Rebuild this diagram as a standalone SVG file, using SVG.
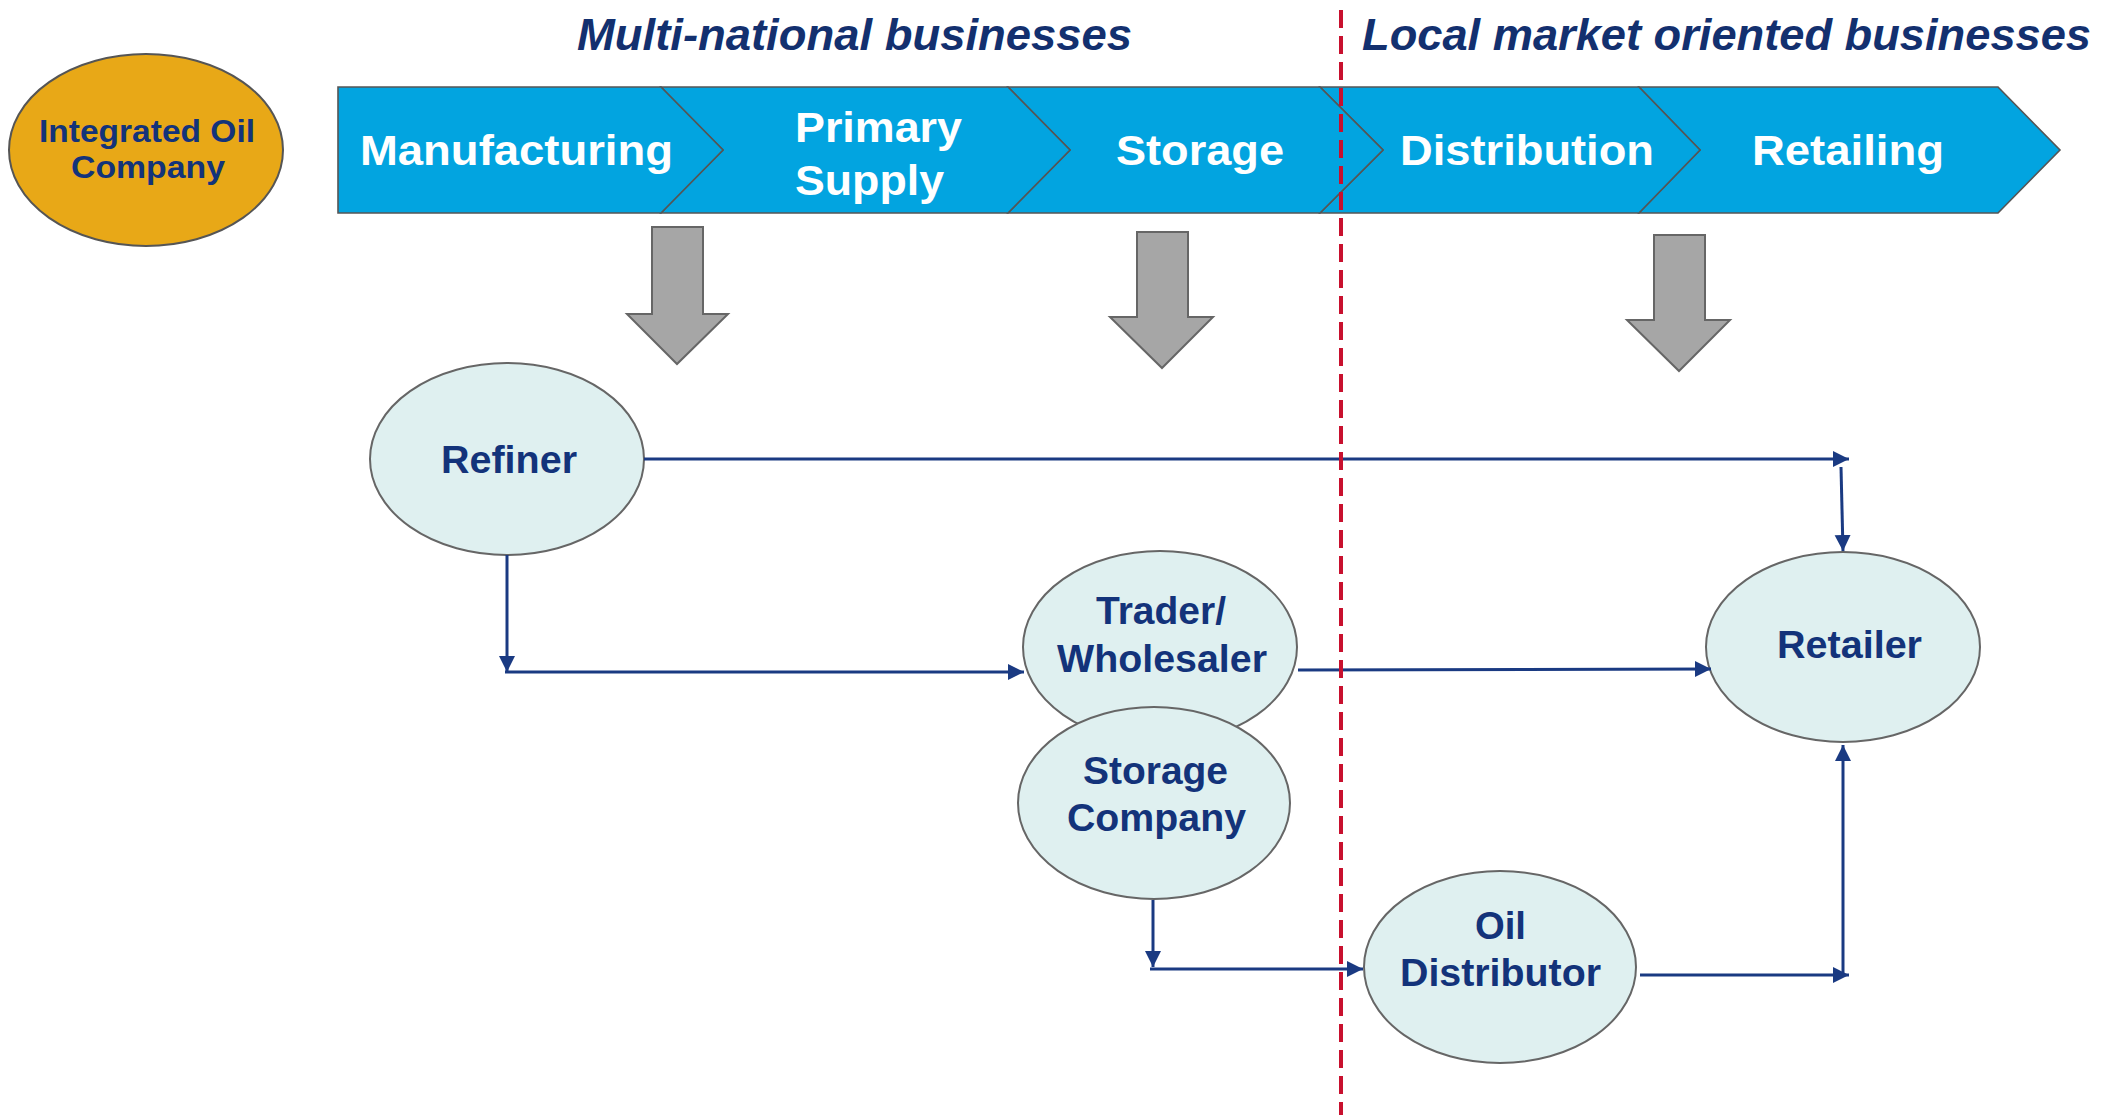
<svg xmlns="http://www.w3.org/2000/svg" width="2105" height="1115" viewBox="0 0 2105 1115">
<defs>
<marker id="ah" markerUnits="userSpaceOnUse" markerWidth="17" markerHeight="17" refX="16" refY="8" orient="auto">
<path d="M0,0 L16,8 L0,16 z" fill="#1A3A82"/>
</marker>
<style>
.title{font-family:"Liberation Sans",Arial,sans-serif;font-weight:bold;font-style:italic;font-size:44px;fill:#13306F}
.chev{fill:#02A4E0;stroke:#555;stroke-width:1.6}
.ctext{font-family:"Liberation Sans",Arial,sans-serif;font-weight:bold;font-size:42px;fill:#fff}
.node{fill:#DFF0F0;stroke:#666;stroke-width:2}
.ntext{font-family:"Liberation Sans",Arial,sans-serif;font-weight:bold;font-size:39px;fill:#13337A}
.garrow{fill:#A6A6A6;stroke:#666;stroke-width:2}
.conn{fill:none;stroke:#1A3A82;stroke-width:3}
.arr{marker-end:url(#ah)}
</style>
</defs>
<rect width="2105" height="1115" fill="#fff"/>

<text class="title" x="577" y="50" textLength="555" lengthAdjust="spacingAndGlyphs">Multi-national businesses</text>
<text class="title" x="1362" y="50" textLength="729" lengthAdjust="spacingAndGlyphs">Local market oriented businesses</text>

<g id="integrated-oil-company">
<ellipse cx="146" cy="150" rx="137" ry="96" fill="#E8A817" stroke="#555" stroke-width="2"/>
<text class="ntext" style="font-size:32px" x="39" y="142" textLength="216" lengthAdjust="spacingAndGlyphs">Integrated Oil</text>
<text class="ntext" style="font-size:32px" x="71" y="178" textLength="154" lengthAdjust="spacingAndGlyphs">Company</text>
</g>

<g id="chevron-retailing">
<polygon class="chev" points="1639,87 1998,87 2060,150 1998,213 1639,213 1700,150"/>
<text class="ctext" x="1752" y="165" textLength="192" lengthAdjust="spacingAndGlyphs">Retailing</text>
</g>
<g id="chevron-distribution">
<polygon class="chev" points="1320,87 1639,87 1700,150 1639,213 1320,213 1383,150"/>
<text class="ctext" x="1400" y="165" textLength="254" lengthAdjust="spacingAndGlyphs">Distribution</text>
</g>
<g id="chevron-storage">
<polygon class="chev" points="1008,87 1320,87 1383,150 1320,213 1008,213 1070,150"/>
<text class="ctext" x="1116" y="165" textLength="168" lengthAdjust="spacingAndGlyphs">Storage</text>
</g>
<g id="chevron-primary-supply">
<polygon class="chev" points="661,87 1008,87 1070,150 1008,213 661,213 723,150"/>
<text class="ctext" x="795" y="142" textLength="167" lengthAdjust="spacingAndGlyphs">Primary</text>
<text class="ctext" x="795" y="195" textLength="149" lengthAdjust="spacingAndGlyphs">Supply</text>
</g>
<g id="chevron-manufacturing">
<polygon class="chev" points="338,87 661,87 723,150 661,213 338,213"/>
<text class="ctext" x="360" y="165" textLength="313" lengthAdjust="spacingAndGlyphs">Manufacturing</text>
</g>

<g id="gray-arrows">
<polygon class="garrow" points="652,227 703,227 703,314 728,314 677,364 627,314 652,314"/>
<polygon class="garrow" points="1137,232 1188,232 1188,317 1213,317 1162,368 1110,317 1137,317"/>
<polygon class="garrow" points="1654,235 1705,235 1705,320 1730,320 1679,371 1627,320 1654,320"/>
</g>

<g id="nodes">
<g id="refiner">
<ellipse class="node" cx="507" cy="459" rx="137" ry="96"/>
<text class="ntext" x="441" y="473" textLength="136" lengthAdjust="spacingAndGlyphs">Refiner</text>
</g>
<g id="trader-wholesaler">
<ellipse class="node" cx="1160" cy="647" rx="137" ry="96"/>
<text class="ntext" x="1096" y="624" textLength="130" lengthAdjust="spacingAndGlyphs">Trader/</text>
<text class="ntext" x="1057" y="672" textLength="210" lengthAdjust="spacingAndGlyphs">Wholesaler</text>
</g>
<g id="storage-company">
<ellipse class="node" cx="1154" cy="803" rx="136" ry="96"/>
<text class="ntext" x="1083" y="784" textLength="145" lengthAdjust="spacingAndGlyphs">Storage</text>
<text class="ntext" x="1067" y="831" textLength="179" lengthAdjust="spacingAndGlyphs">Company</text>
</g>
<g id="retailer">
<ellipse class="node" cx="1843" cy="647" rx="137" ry="95"/>
<text class="ntext" x="1777" y="658" textLength="145" lengthAdjust="spacingAndGlyphs">Retailer</text>
</g>
<g id="oil-distributor">
<ellipse class="node" cx="1500" cy="967" rx="136" ry="96"/>
<text class="ntext" x="1475" y="939" textLength="51" lengthAdjust="spacingAndGlyphs">Oil</text>
<text class="ntext" x="1400" y="986" textLength="201" lengthAdjust="spacingAndGlyphs">Distributor</text>
</g>
</g>

<g id="connectors">
<line class="conn arr" x1="644" y1="459" x2="1849" y2="459"/>
<line class="conn arr" x1="1841" y1="467" x2="1843" y2="551"/>
<line class="conn arr" x1="507" y1="555" x2="507" y2="672"/>
<line class="conn arr" x1="505" y1="672" x2="1024" y2="672"/>
<line class="conn arr" x1="1298" y1="670" x2="1711" y2="669"/>
<line class="conn arr" x1="1153" y1="900" x2="1153" y2="967"/>
<line class="conn arr" x1="1150" y1="969" x2="1363" y2="969"/>
<line class="conn arr" x1="1640" y1="975" x2="1849" y2="975"/>
<line class="conn arr" x1="1843" y1="975" x2="1843" y2="745"/>
</g>

<line id="divider" x1="1341" y1="10" x2="1341" y2="1115" stroke="#C8102E" stroke-width="4" stroke-dasharray="18,8"/>
</svg>
